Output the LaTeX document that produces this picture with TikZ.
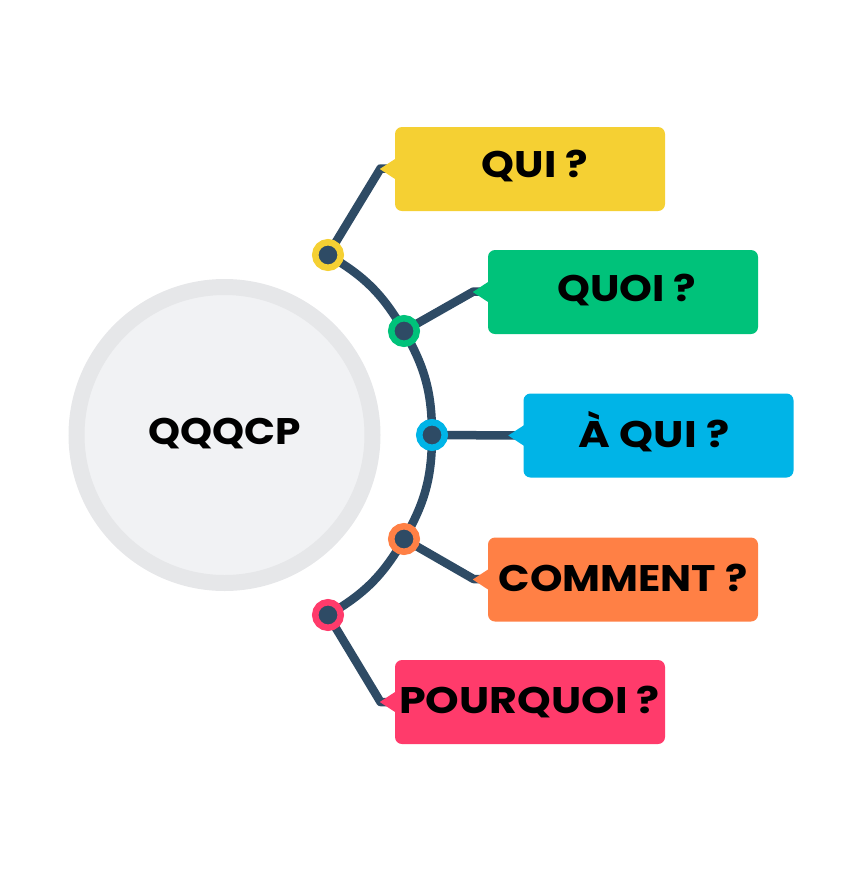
\documentclass[tikz,border=0pt]{standalone}
\usepackage{fontspec}
\setmainfont{Poppins}
\usetikzlibrary{calc}
\definecolor{cyel}{HTML}{F5D033}
\definecolor{cgre}{HTML}{00C27A}
\definecolor{cblu}{HTML}{00B4E7}
\definecolor{cora}{HTML}{FF8045}
\definecolor{cpin}{HTML}{FF3B6B}
\definecolor{navy}{HTML}{2E4B65}
\definecolor{band}{HTML}{E6E7E9}
\definecolor{disc}{HTML}{F1F2F4}
\pgfdeclarelayer{wires}
\pgfsetlayers{wires,main}
\tikzset{
  x=1pt,y=-1pt,
  hub/.style={circle,draw=#1,line width=6.5pt,fill=navy,minimum size=25.5pt,inner sep=0pt},
  tag/.style={rectangle,rounded corners=7pt,fill=#1,minimum width=270pt,minimum height=84pt,inner sep=0pt},
  lab/.style={font=\bfseries\fontsize{37}{44}\selectfont,text=black,inner sep=0pt,anchor=center},
  wire/.style={draw=navy,line width=8.5pt,line join=round}
}
\newcommand{\pointer}[2]{\fill[#2] ($(#1.west)+(1,-10.5)$) -- ($(#1.west)+(-15,0)$) -- ($(#1.west)+(1,10.5)$) -- cycle;}
\newcommand{\widened}[2]{\scalebox{#1}[1]{#2}}
\begin{document}
\begin{tikzpicture}
\useasboundingbox (0,0) rectangle (861,871);
\node[circle,draw=band,fill=disc,line width=16pt,minimum size=296pt,inner sep=0pt] (main) at (224.5,435) {};
\node[lab] (maint) at (225,434) {\widened{1.10}{QQQCP}};
\node[hub=cyel] (h1) at (328,255) {};
\node[hub=cgre] (h2) at (404,331) {};
\node[hub=cblu] (h3) at (432,435) {};
\node[hub=cora] (h4) at (404,539) {};
\node[hub=cpin] (h5) at (328,615) {};
\node[tag=cyel] (b1) at (530,169) {};
\node[tag=cgre] (b2) at (623,292) {};
\node[tag=cblu] (b3) at (658.5,435.5) {};
\node[tag=cora] (b4) at (623,579.5) {};
\node[tag=cpin] (b5) at (530,702) {};
\pointer{b1}{cyel}
\pointer{b2}{cgre}
\pointer{b3}{cblu}
\pointer{b4}{cora}
\pointer{b5}{cpin}
\node[lab] (t1) at (535,166) {\widened{1.13}{QUI ?}};
\node[lab] (t2) at (627,290) {\widened{1.13}{QUOI ?}};
\node[lab] (t3) at (654,432) {\widened{1.166}{À QUI ?}};
\node[lab] (t4) at (623,578) {\widened{1.117}{COMMENT ?}};
\node[lab] (t5) at (529.5,702) {\widened{1.156}{POURQUOI ?}};
\coordinate (k1) at (380.5,168.5);
\coordinate (k2) at (473.5,291.5);
\coordinate (k4) at (473.5,579);
\coordinate (k5) at (380.5,702);
\begin{pgfonlayer}{wires}
\draw[wire] (h1.center) to[bend left=15] (h2.center);
\draw[wire] (h2.center) to[bend left=15] (h3.center);
\draw[wire] (h3.center) to[bend left=15] (h4.center);
\draw[wire] (h4.center) to[bend left=15] (h5.center);
\draw[wire] (h1.center) -- (k1) -- (b1.west);
\draw[wire] (h2.center) -- (k2) -- (b2.west);
\draw[wire] (h3.center) -- (b3.west);
\draw[wire] (h4.center) -- (k4) -- (b4.west);
\draw[wire] (h5.center) -- (k5) -- (b5.west);
\end{pgfonlayer}
\end{tikzpicture}
\end{document}
